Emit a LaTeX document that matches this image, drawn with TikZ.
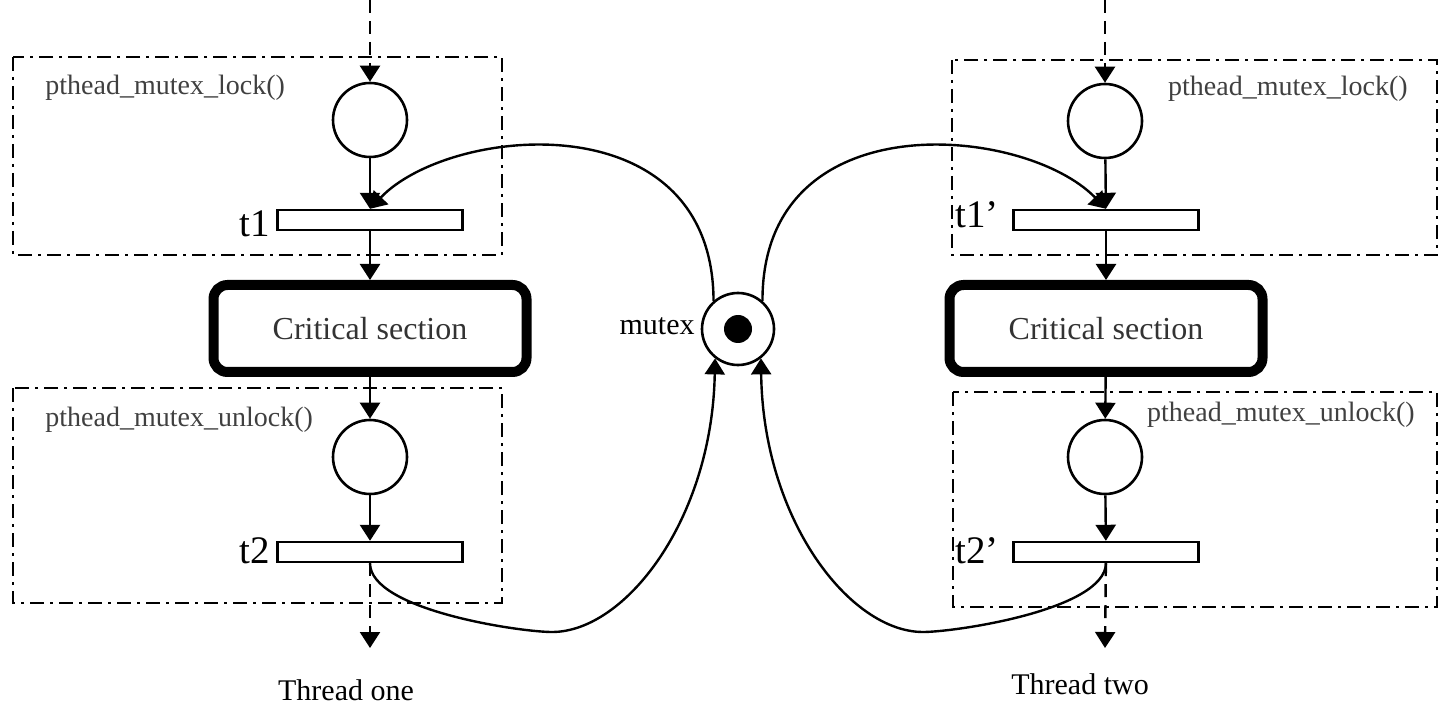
\documentclass[tikz,border=0pt]{standalone}
\usepackage{fontspec}
\setmainfont{Liberation Serif}
\usetikzlibrary{arrows.meta}
\begin{document}
\begin{tikzpicture}[x=0.5pt,y=-0.5pt,
  placenode/.style={circle,draw,line width=1.3pt,minimum size=37pt,inner sep=0pt},
  transnode/.style={rectangle,draw,line width=1.2pt,minimum width=92.5pt,minimum height=10pt,inner sep=0pt},
  critnode/.style={rectangle,rounded corners=7pt,draw,line width=5pt,minimum width=156.5pt,
    minimum height=43.5pt,font=\fontsize{16}{18}\selectfont,text=black!80},
  netarc/.style={line width=1.2pt,-{Triangle[length=8pt,width=10pt]}},
  flowarc/.style={netarc,dash pattern=on 6.5pt off 4pt},
  regionbox/.style={line width=1.4pt,dash pattern=on 7pt off 3pt on 1.5pt off 3pt},
  fname/.style={font=\fontsize{14}{16}\selectfont,text=black!75,inner sep=0pt},
  tname/.style={font=\fontsize{19.5}{22}\selectfont,inner sep=0pt},
  threadname/.style={font=\fontsize{15}{18}\selectfont,inner sep=0pt}
]
\useasboundingbox (0,0) rectangle (1439,705);

% function regions
\draw[regionbox] (13,57) rectangle (502,255);
\draw[regionbox] (13,388) rectangle (502,603);
\draw[regionbox] (952,60) rectangle (1437,255);
\draw[regionbox] (953,392) rectangle (1437,607);
\node[fname,anchor=base west] (lockA) at (45,95) {pthead\_mutex\_lock()};
\node[fname,anchor=base west] (unlockA) at (45,426) {pthead\_mutex\_unlock()};
\node[fname,anchor=base east] (lockB) at (1408,96) {pthead\_mutex\_lock()};
\node[fname,anchor=base east] (unlockB) at (1415,422) {pthead\_mutex\_unlock()};

% thread one
\node[placenode] (p1) at (370,120) {};
\node[transnode] (t1) at (370,220) {};
\node[critnode] (cs1) at (370,328.5) {Critical section};
\node[placenode] (p2) at (370,457) {};
\node[transnode] (t2) at (370,552) {};
\node[tname,anchor=base east] (l1) at (270,237) {t1};
\node[tname,anchor=base east] (l2) at (270,563) {t2};
\node[threadname] (th1) at (346,690) {Thread one};
\coordinate (in1) at (370,0);
\coordinate (out1) at (370,648);
\coordinate (low1) at (552,632);

% thread two
\node[placenode] (p3) at (1105,121) {};
\node[transnode] (t3) at (1106,220) {};
\node[critnode] (cs2) at (1106,328.5) {Critical section};
\node[placenode] (p4) at (1105,457) {};
\node[transnode] (t4) at (1106,552) {};
\node[tname,anchor=base east] (l3) at (999,228) {t1’};
\node[tname,anchor=base east] (l4) at (999,563) {t2’};
\node[threadname] (th2) at (1080,684) {Thread two};
\coordinate (in2) at (1105,0);
\coordinate (out2) at (1105,648);
\coordinate (low2) at (923,632);

% mutex place with its token
\node[placenode,minimum size=36pt] (mx) at (738,329) {};
\node[circle,fill,minimum size=14pt,inner sep=0pt] (tok) at (mx.center) {};
\node[threadname,anchor=base east] (mxl) at (695,335) {mutex};

% control flow
\draw[flowarc] (in1) -- (p1);
\draw[netarc] (p1) -- (t1);
\draw[netarc] (t1) -- (cs1);
\draw[netarc] (cs1) -- (p2);
\draw[netarc] (p2) -- (t2);
\draw[flowarc] (t2) -- (out1);

\draw[flowarc] (in2) -- (p3);
\draw[netarc] (p3) -- (t3);
\draw[netarc] (t3) -- (cs2);
\draw[netarc] (cs2) -- (p4);
\draw[netarc] (p4) -- (t4);
\draw[flowarc] (t4) -- (out2);

% mutex arcs
\draw[netarc] (mx.131) .. controls (713,100) and (450,125) .. (t1.north);
\draw[netarc] (mx.49) .. controls (762,100) and (1025,125) .. (t3.north);
\draw[netarc] (t2.south) .. controls (370,610) and (520,632) .. (low1)
  .. controls (625,632) and (712,520) .. (mx.232);
\draw[netarc] (t4.south) .. controls (1105,610) and (955,632) .. (low2)
  .. controls (850,632) and (763,520) .. (mx.308);
\end{tikzpicture}
\end{document}
